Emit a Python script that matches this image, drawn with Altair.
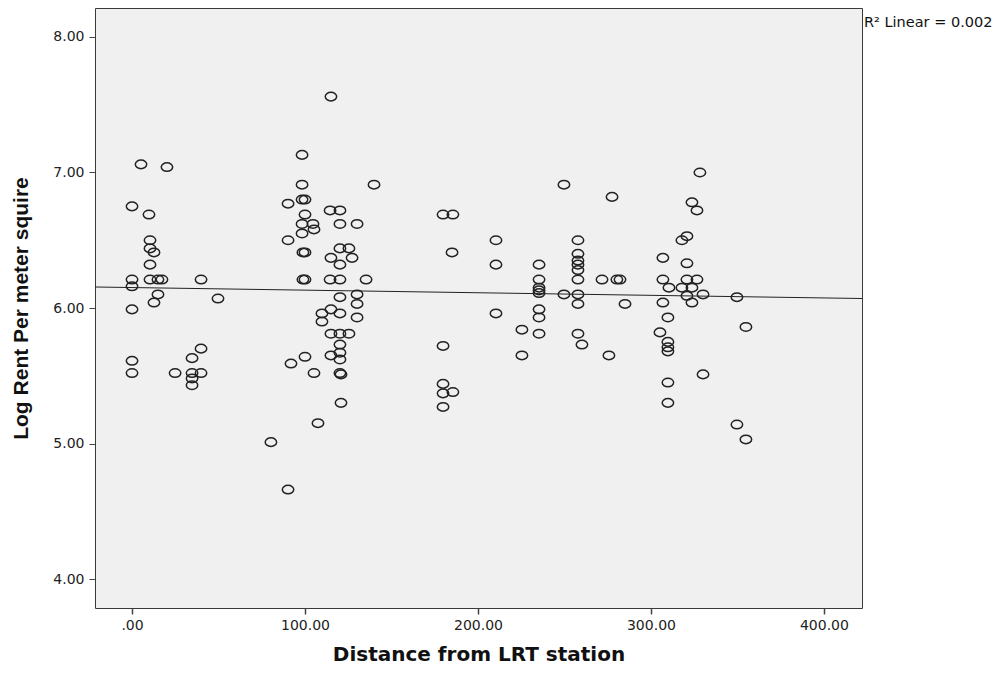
import altair as alt
import pandas as pd

# Distance from LRT station (x) and Log rent per square meter (y)
distance = [
    0.0, 5.2, 20.2, 9.8, 10.4, 10.4, 12.7, 10.4, 0.0, 10.4, 15.0, 17.3, 39.9, 0.0, 15.0, 12.7,
    49.7, 0.0, 39.9, 34.7, 0.0, 0.0, 24.9, 34.7, 39.9, 34.7, 34.7,
    80.3, 91.9, 90.2, 90.2, 90.2, 115.0, 98.3, 98.3, 139.9, 98.3, 100.0, 114.5, 120.2, 100.0,
    98.3, 104.6, 105.2, 98.3, 120.2, 130.1, 98.8, 100.0, 120.2, 125.4, 115.0, 127.2, 120.2,
    100.0, 98.8, 114.5, 120.2, 135.3, 120.2, 130.1, 130.1, 130.1, 115.0, 109.8, 109.8, 120.2,
    115.0, 120.2, 125.4, 120.2, 120.2, 120.2, 115.0, 100.0, 105.2, 120.2, 120.8, 120.8, 107.5,
    179.8, 185.5, 185.0, 210.4, 210.4, 210.4, 249.7, 277.5, 235.3, 235.3, 235.3, 235.3, 235.3,
    257.8, 257.8, 257.8, 257.8, 257.8, 257.8, 271.7, 280.3, 282.1, 249.7, 257.8, 257.8, 285.0,
    235.3, 235.3, 225.4, 235.3, 257.8, 260.1, 179.8, 275.7, 225.4, 179.8, 179.8, 185.5, 179.8,
    328.3, 323.7, 326.6, 320.8, 317.9, 306.9, 320.8, 306.9, 320.8, 326.6, 310.4, 317.9, 323.7,
    320.8, 330.1, 349.7, 306.9, 323.7, 309.8, 305.2, 309.8, 309.8, 309.8, 354.9, 330.1, 309.8,
    309.8, 349.7, 354.9,
]
log_rent = [
    6.75, 7.06, 7.04, 6.69, 6.50, 6.44, 6.41, 6.32, 6.21, 6.21, 6.21, 6.21, 6.21, 6.16, 6.10, 6.04,
    6.07, 5.99, 5.70, 5.63, 5.61, 5.52, 5.52, 5.52, 5.52, 5.48, 5.43,
    5.01, 5.59, 4.66, 6.77, 6.50, 7.56, 7.13, 6.91, 6.91, 6.80, 6.80, 6.72, 6.72, 6.69,
    6.62, 6.62, 6.58, 6.55, 6.62, 6.62, 6.41, 6.41, 6.44, 6.44, 6.37, 6.37, 6.32,
    6.21, 6.21, 6.21, 6.21, 6.21, 6.08, 6.10, 6.03, 5.93, 5.99, 5.96, 5.90, 5.96,
    5.81, 5.81, 5.81, 5.73, 5.67, 5.62, 5.65, 5.64, 5.52, 5.52, 5.51, 5.30, 5.15,
    6.69, 6.69, 6.41, 6.50, 6.32, 5.96, 6.91, 6.82, 6.32, 6.21, 6.15, 6.11, 6.13,
    6.50, 6.40, 6.35, 6.32, 6.28, 6.21, 6.21, 6.21, 6.21, 6.10, 6.10, 6.03, 6.03,
    5.99, 5.93, 5.84, 5.81, 5.81, 5.73, 5.72, 5.65, 5.65, 5.44, 5.37, 5.38, 5.27,
    7.00, 6.78, 6.72, 6.53, 6.50, 6.37, 6.33, 6.21, 6.21, 6.21, 6.15, 6.15, 6.15,
    6.09, 6.10, 6.08, 6.04, 6.04, 5.93, 5.82, 5.75, 5.71, 5.68, 5.86, 5.51, 5.45,
    5.30, 5.14, 5.03,
]

# Fit line (linear regression) end points
fit_x = [-21.4, 422.0]
fit_y = [6.155, 6.070]

x_ticks = [0, 100, 200, 300, 400]
y_ticks = [4, 5, 6, 7, 8]
x_domain = [-21.4, 422.0]
y_domain = [3.786, 8.214]
r2_label = "R\u00b2 Linear = 0.002"

PLOT_W = 767
PLOT_H = 600

pts = pd.DataFrame({"dist": distance, "rent": log_rent})
fit = pd.DataFrame({"dist": fit_x, "rent": fit_y})
note = pd.DataFrame({"t": [r2_label]})

label_expr = "datum.value == 0 ? '.00' : format(datum.value, '.2f')"

x_enc = alt.X(
    "dist:Q",
    scale=alt.Scale(domain=x_domain, nice=False, zero=False),
    axis=alt.Axis(
        title="Distance from LRT station",
        values=x_ticks,
        labelExpr=label_expr,
        grid=False,
        domain=False,
        tickSize=6,
        tickWidth=1.5,
        tickColor="#444444",
        labelFont="DejaVu Sans",
        labelFontSize=14,
        labelColor="#222222",
        labelPadding=4,
        titleFont="DejaVu Sans",
        titleFontSize=20,
        titleFontWeight="bold",
        titleColor="#111111",
        titleBaseline="alphabetic",
        titleY=52,
    ),
)
y_enc = alt.Y(
    "rent:Q",
    scale=alt.Scale(domain=y_domain, nice=False, zero=False),
    axis=alt.Axis(
        title="Log Rent Per meter squire",
        values=y_ticks,
        format=".2f",
        grid=False,
        domain=False,
        tickSize=6,
        tickWidth=1,
        tickColor="#444444",
        labelFont="DejaVu Sans",
        labelFontSize=14,
        labelColor="#222222",
        labelPadding=5,
        titleFont="Liberation Sans",
        titleFontSize=21,
        titleFontWeight="bold",
        titleColor="#111111",
        titleAngle=270,
        titleBaseline="middle",
        titleAlign="center",
        titleX=-74,
        titleY=300,
    ),
)

ellipse = "M -1 0 A 1 0.75 0 1 0 1 0 A 1 0.75 0 1 0 -1 0 Z"

points = alt.Chart(pts).mark_point(
    shape=ellipse, size=130, filled=False, stroke="#222222", strokeWidth=1.5, opacity=1
).encode(x=x_enc, y=y_enc)

line = alt.Chart(fit).mark_line(color="#222222", strokeWidth=1, clip=True).encode(
    x="dist:Q", y="rent:Q"
)

text = alt.Chart(note).mark_text(
    align="left", baseline="alphabetic", font="DejaVu Sans", fontSize=14.5, color="#111111"
).encode(x=alt.value(PLOT_W + 2), y=alt.value(19), text="t:N")

chart = (
    alt.layer(line, points, text)
    .properties(
        width=PLOT_W,
        height=PLOT_H,
        autosize=alt.AutoSizeParams(type="none"),
        padding={"left": 87, "top": 0, "right": 134, "bottom": 58},
        background="white",
    )
    .configure_view(fill="#F0F0F0", stroke="#3a3a3a", strokeWidth=1)
)

chart.save("out.html", embed_options={"renderer": "svg", "actions": False})
